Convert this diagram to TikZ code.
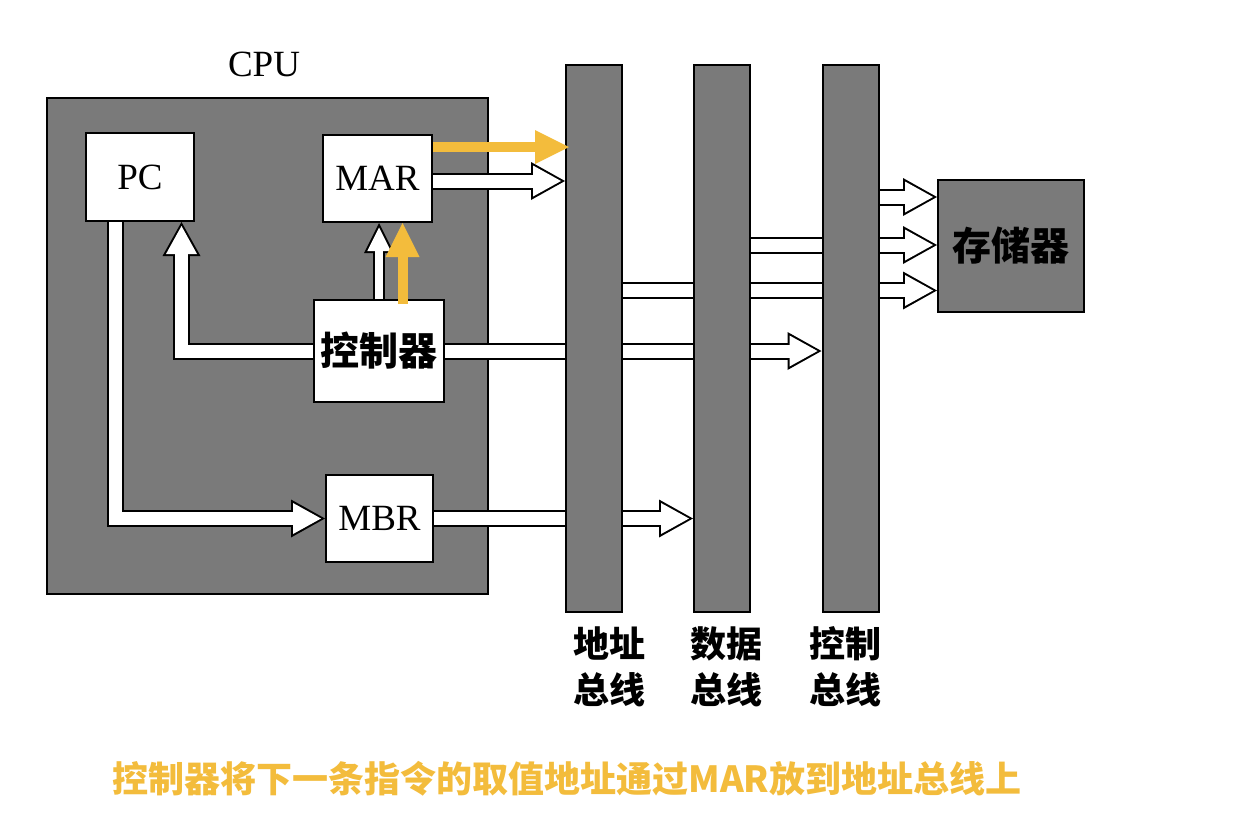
\documentclass[tikz,border=0pt]{standalone}
\usepackage{fontspec}
\setmainfont{Liberation Serif}
\newfontfamily\cjk{Noto Sans CJK SC}
\usetikzlibrary{arrows.meta, positioning, calc}
\definecolor{cpugray}{RGB}{122,122,122}
\definecolor{hlorange}{RGB}{243,188,60}
\pgfdeclarelayer{front}
\pgfsetlayers{main,front}

\tikzset{
  box/.style={draw, line width=2pt, fill=white, inner sep=0pt},
  graybox/.style={draw, line width=2pt, fill=cpugray, inner sep=0pt},
  bus/.style={graybox, minimum width=56pt, minimum height=547pt},
  en/.style={font=\fontsize{37}{40}\selectfont},
  zh/.style={font=\cjk\bfseries\fontsize{39}{46}\selectfont},
  zhlab/.style={font=\cjk\bfseries\fontsize{36}{46}\selectfont, align=center},
  % hollow bus arrow: black band, white core, white head inside black head
  bigarrow/.style={draw=black, line width=17pt, -{Triangle[length=34pt, width=38pt, line width=0pt]},
    postaction={draw=white, line width=13pt, -, shorten >=18pt},
    postaction={draw=white, line width=13pt, shorten >=4pt, -{Triangle[length=28pt, width=31pt, line width=0pt]}}},
  smallarrow/.style={draw=black, line width=12pt, -{Triangle[length=30pt, width=30pt, line width=0pt]},
    postaction={draw=white, line width=8pt, -, shorten >=15pt},
    postaction={draw=white, line width=8pt, shorten >=4.5pt, -{Triangle[length=23.5pt, width=23.5pt, line width=0pt]}}},
  hlarrow/.style={draw=hlorange, line width=10pt, -{Triangle[length=34pt, width=34pt, line width=0pt]}}
}

\begin{document}
\begin{tikzpicture}[x=1pt, y=-1pt]
  \fill[white, use as bounding box] (0,0) rectangle (1234,828);

  % buses sit in front so that the bands pass under them
  \begin{pgfonlayer}{front}
    \node[bus] (abus) at (594,338.5) {};
    \node[bus] (dbus) at (722,338.5) {};
    \node[bus] (cbus) at (850.5,338.5) {};
  \end{pgfonlayer}

  \node[en] (cpulabel) at (264,64) {CPU};
  \node[graybox, minimum width=441pt, minimum height=496pt] (cpu) at (267.5,346) {};
  \node[box, en, minimum width=108pt, minimum height=88pt] (pc) at (140,177) {PC};
  \node[box, en, minimum width=109pt, minimum height=87pt] (mar) at (377.5,178.5) {MAR};
  \node[box, zh, minimum width=130pt, minimum height=102pt] (ctrl) at (379,351) {控制器};
  \node[box, en, minimum width=107pt, minimum height=87pt] (mbr) at (379.5,518.5) {MBR};
  \node[graybox, zh, minimum width=146pt, minimum height=132pt] (mem) at (1011,246) {存储器};

  % inside the CPU
  \draw[bigarrow] (ctrl.west) -| ($(pc.south)+(41.5,0)$);
  \draw[smallarrow] (ctrl.north) -- (ctrl.north |- mar.south);
  \draw[bigarrow] ($(pc.south)+(-24.5,0)$) |- (mbr.west);

  % CPU to buses
  \coordinate (marout) at ($(mar.east)+(0,2.5)$);
  \draw[bigarrow] (marout) -- (marout -| abus.west);
  \draw[bigarrow] (ctrl.east) -- (ctrl.east -| cbus.west);
  \draw[bigarrow] (mbr.east) -- (mbr.east -| dbus.west);

  % buses to memory
  \coordinate (cin) at ($(mem.west)+(0,-49)$);
  \coordinate (din) at ($(mem.west)+(0,-1)$);
  \coordinate (ain) at ($(mem.west)+(0,44.5)$);
  \draw[bigarrow] (cin -| cbus.east) -- (cin);
  \draw[bigarrow] (din -| dbus.east) -- (din);
  \draw[bigarrow] (ain -| abus.east) -- (ain);

  \node[zhlab] (alab) at (609,667) {地址\\总线};
  \node[zhlab] (dlab) at (726,667) {数据\\总线};
  \node[zhlab] (clab) at (845,667) {控制\\总线};

  % highlighted step
  \begin{pgfonlayer}{front}
    \coordinate (hlstart) at ($(mar.north east)+(0,13)$);
    \draw[hlarrow] (hlstart) -- ($(hlstart -| abus.west)+(4,0)$);
    \coordinate (hlup) at ($(ctrl.north)+(23.5,5)$);
    \draw[hlarrow] (hlup) -- (hlup |- mar.south);
  \end{pgfonlayer}

  \node[font=\cjk\bfseries\fontsize{36}{44}\selectfont, text=hlorange] (caption) at (567,779)
    {控制器将下一条指令的取值地址通过MAR放到地址总线上};
\end{tikzpicture}
\end{document}
